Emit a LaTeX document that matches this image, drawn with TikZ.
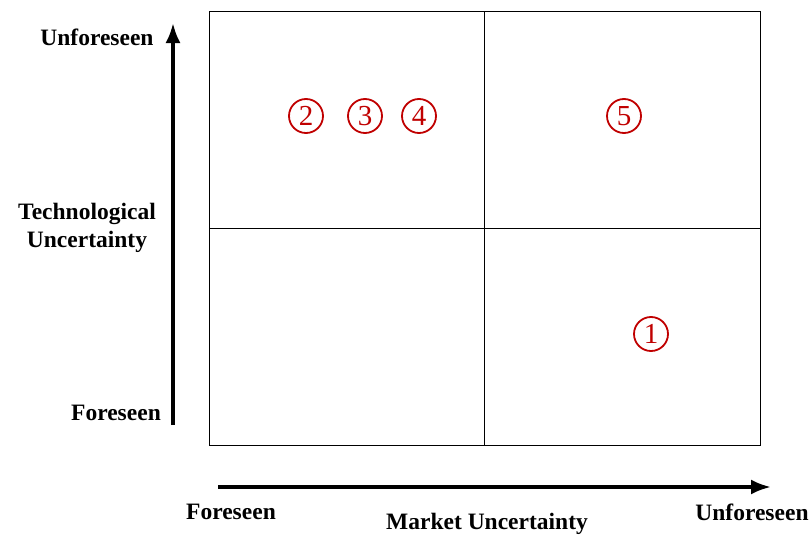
\documentclass[tikz,border=0pt]{standalone}
\usepackage{fontspec}
\setmainfont{Liberation Serif}
\usepackage{xcolor}
\usepackage{tikz}
\usetikzlibrary{calc, positioning, arrows.meta}

\definecolor{markred}{RGB}{192,0,0}

\begin{document}
\begin{tikzpicture}[x=1pt, y=-1pt, >={Latex[length=20pt, width=15pt]}]
    \useasboundingbox (0,0) rectangle (812,538);
    \tikzset{
        axislabel/.style={font=\fontsize{23.5}{28}\selectfont\bfseries, inner sep=0pt, align=center},
        marknum/.style={circle, draw=markred, text=markred, line width=1.8pt, minimum size=34pt, inner sep=0pt, font=\fontsize{29}{29}\selectfont}
    }

    % 1. Khung hai hang hai cot
    \draw[black, thin] (209,11) rectangle (760,445);
    \draw[black, thin] (484,11) -- (484,445);
    \draw[black, thin] (209,228) -- (760,228);

    % 2. Truc doc va truc ngang
    \coordinate (ybot) at (173,425);
    \coordinate (ytop) at (173,23);
    \coordinate (xleft) at (218,487);
    \coordinate (xright) at (771,487);
    \draw[->, line width=3.5pt] (ybot) -- (ytop);
    \draw[->, line width=3.5pt] (xleft) -- (xright);

    % Nhan cua truc doc
    \node[axislabel] (yhigh) at (97,37) {Unforeseen};
    \node[axislabel] (ytitle) at (87,228) {Technological\\Uncertainty};
    \node[axislabel] (ylow) at (116,413) {Foreseen};

    % Nhan cua truc ngang
    \node[axislabel] (xlow) at (231,512) {Foreseen};
    \node[axislabel] (xtitle) at (487,524) {Market Uncertainty};
    \node[axislabel] (xhigh) at (752,512) {Unforeseen};

    % 3. Cac so khoanh tron mau do
    \foreach \n/\x/\y in {1/651/334, 2/306/116, 3/365/116, 4/419/116, 5/624/116} {
        \node[marknum] (m\n) at (\x,\y) {\n};
    }

\end{tikzpicture}
\end{document}
